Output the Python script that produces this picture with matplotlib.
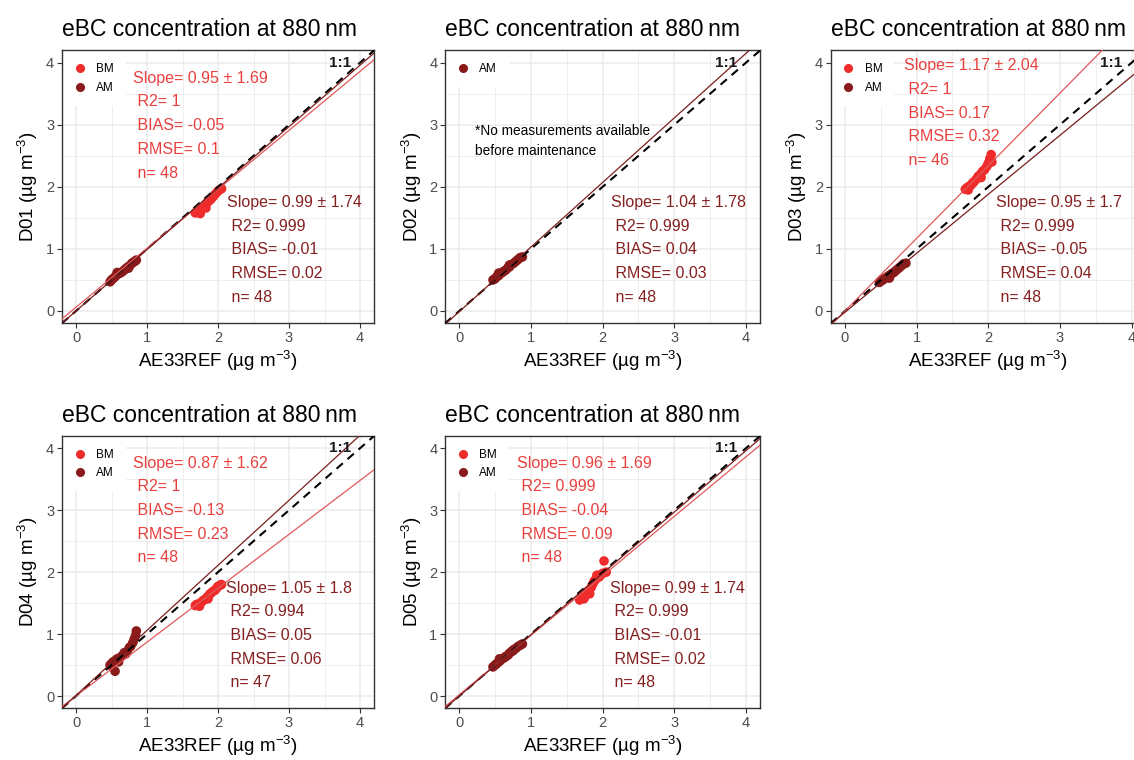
"""eBC concentration at 880 nm: five instruments (D01-D05) against AE33REF."""

import matplotlib

matplotlib.use("Agg")
import matplotlib.pyplot as plt
from matplotlib.lines import Line2D

PANELS = ["D01", "D02", "D03", "D04", "D05"]

# before maintenance (BM) and after maintenance (AM) samples
D01_BM_X = [1.68, 1.70, 1.72, 1.74, 1.76, 1.78, 1.80, 1.82, 1.84, 1.86, 1.88, 1.90, 1.93, 1.96, 1.99, 2.02, 2.05, 1.75, 1.83]
D01_BM_Y = [1.58, 1.60, 1.61, 1.60, 1.63, 1.66, 1.68, 1.71, 1.74, 1.76, 1.78, 1.80, 1.84, 1.88, 1.92, 1.95, 1.97, 1.57, 1.66]
D01_AM_X = [0.48, 0.50, 0.52, 0.55, 0.57, 0.60, 0.62, 0.65, 0.68, 0.70, 0.73, 0.75, 0.78, 0.80, 0.83, 0.85, 0.58, 0.74]
D01_AM_Y = [0.47, 0.50, 0.52, 0.55, 0.58, 0.60, 0.61, 0.63, 0.66, 0.68, 0.71, 0.72, 0.76, 0.78, 0.80, 0.82, 0.62, 0.69]

D02_AM_X = [0.47, 0.50, 0.52, 0.55, 0.57, 0.60, 0.62, 0.65, 0.68, 0.70, 0.73, 0.76, 0.79, 0.82, 0.85, 0.88, 0.55, 0.70]
D02_AM_Y = [0.50, 0.52, 0.55, 0.57, 0.60, 0.62, 0.64, 0.66, 0.70, 0.71, 0.75, 0.77, 0.80, 0.83, 0.86, 0.87, 0.61, 0.74]

D03_BM_X = [1.68, 1.70, 1.72, 1.74, 1.76, 1.78, 1.80, 1.83, 1.86, 1.89, 1.92, 1.95, 1.98, 2.00, 2.02, 2.04, 2.05, 1.72, 1.90]
D03_BM_Y = [1.96, 1.98, 2.00, 2.01, 2.03, 2.06, 2.08, 2.12, 2.17, 2.20, 2.25, 2.28, 2.33, 2.38, 2.45, 2.52, 2.40, 1.95, 2.15]
D03_AM_X = [0.48, 0.50, 0.53, 0.55, 0.58, 0.60, 0.63, 0.65, 0.68, 0.70, 0.73, 0.76, 0.79, 0.82, 0.85, 0.62]
D03_AM_Y = [0.46, 0.48, 0.50, 0.52, 0.54, 0.56, 0.58, 0.60, 0.62, 0.64, 0.67, 0.70, 0.73, 0.76, 0.77, 0.53]

D04_BM_X = [1.68, 1.70, 1.72, 1.75, 1.78, 1.80, 1.83, 1.85, 1.88, 1.90, 1.93, 1.96, 1.98, 2.00, 2.03, 2.05, 1.74, 1.86]
D04_BM_Y = [1.46, 1.48, 1.47, 1.50, 1.53, 1.55, 1.57, 1.60, 1.64, 1.66, 1.69, 1.71, 1.74, 1.77, 1.79, 1.80, 1.45, 1.57]
D04_AM_X = [0.48, 0.50, 0.52, 0.55, 0.56, 0.58, 0.60, 0.62, 0.65, 0.68, 0.70, 0.72, 0.75, 0.77, 0.80, 0.82, 0.84, 0.85]
D04_AM_Y = [0.50, 0.52, 0.55, 0.40, 0.58, 0.60, 0.55, 0.62, 0.65, 0.70, 0.68, 0.72, 0.78, 0.80, 0.86, 0.92, 0.98, 1.05]

D05_BM_X = [1.68, 1.70, 1.72, 1.74, 1.76, 1.78, 1.80, 1.82, 1.84, 1.86, 1.88, 1.90, 1.92, 1.95, 1.98, 2.00, 2.02, 2.05]
D05_BM_Y = [1.55, 1.58, 1.60, 1.57, 1.62, 1.66, 1.70, 1.65, 1.75, 1.80, 1.85, 1.88, 1.95, 1.92, 1.96, 1.98, 2.18, 2.00]
D05_AM_X = [0.47, 0.50, 0.52, 0.55, 0.57, 0.60, 0.63, 0.65, 0.68, 0.70, 0.73, 0.76, 0.79, 0.82, 0.85, 0.88, 0.56, 0.75]
D05_AM_Y = [0.47, 0.50, 0.52, 0.55, 0.57, 0.60, 0.62, 0.64, 0.66, 0.69, 0.72, 0.75, 0.77, 0.80, 0.82, 0.84, 0.60, 0.73]

BM_X = [D01_BM_X, None, D03_BM_X, D04_BM_X, D05_BM_X]
BM_Y = [D01_BM_Y, None, D03_BM_Y, D04_BM_Y, D05_BM_Y]
AM_X = [D01_AM_X, D02_AM_X, D03_AM_X, D04_AM_X, D05_AM_X]
AM_Y = [D01_AM_Y, D02_AM_Y, D03_AM_Y, D04_AM_Y, D05_AM_Y]

# regression lines
BM_SLOPE = [0.95, None, 1.17, 0.87, 0.96]
BM_INTERCEPT = [0.06, None, 0.0, 0.0, 0.02]
AM_SLOPE = [0.99, 1.04, 0.95, 1.05, 0.99]
AM_INTERCEPT = [0.0, -0.01, -0.02, 0.01, 0.0]

# slope, R2, BIAS, RMSE, n
BM_STATS = [
    ["0.95 ± 1.69", "1", "-0.05", "0.1", "48"],
    None,
    ["1.17 ± 2.04", "1", "0.17", "0.32", "46"],
    ["0.87 ± 1.62", "1", "-0.13", "0.23", "48"],
    ["0.96 ± 1.69", "0.999", "-0.04", "0.09", "48"],
]
AM_STATS = [
    ["0.99 ± 1.74", "0.999", "-0.01", "0.02", "48"],
    ["1.04 ± 1.78", "0.999", "0.04", "0.03", "48"],
    ["0.95 ± 1.7", "0.999", "-0.05", "0.04", "48"],
    ["1.05 ± 1.8", "0.994", "0.05", "0.06", "47"],
    ["0.99 ± 1.74", "0.999", "-0.01", "0.02", "48"],
]
BM_TEXT_XY = [(0.80, 3.75), None, (0.82, 3.95), (0.80, 3.76), (0.80, 3.76)]
AM_TEXT_XY = [(2.12, 1.75), (2.12, 1.75), (2.11, 1.75), (2.11, 1.74), (2.11, 1.74)]

BM_COLOR = "#EE2C2C"
AM_COLOR = "#8B1A1A"
BM_TEXT = "#E8403F"
AM_TEXT = "#852020"
BM_LINE = "#E0585A"
AM_LINE = "#7A1E1E"

# axes rectangles in figure fractions (third panel runs off the right edge)
POSITIONS = [
    [0.0545, 0.5745, 0.2755, 0.3593],
    [0.3924, 0.5745, 0.2780, 0.3593],
    [0.7325, 0.5745, 0.2780, 0.3593],
    [0.0545, 0.0679, 0.2755, 0.3586],
    [0.3924, 0.0679, 0.2780, 0.3586],
]


def setup_plt() -> None:
    plt.rcParams["font.family"] = ["Liberation Sans", "DejaVu Sans"]
    plt.rcParams["mathtext.default"] = "regular"


def stat_lines(stats):
    return [
        f"Slope= {stats[0]}",
        f" R2= {stats[1]}",
        f" BIAS= {stats[2]}",
        f" RMSE= {stats[3]}",
        f" n= {stats[4]}",
    ]


def draw_panel(fig, i):
    ax = fig.add_axes(POSITIONS[i])
    ax.set_xlim(-0.2, 4.2)
    ax.set_ylim(-0.2, 4.2)
    ax.set_xticks([0, 1, 2, 3, 4])
    ax.set_yticks([0, 1, 2, 3, 4])
    ax.set_xticks([0.5, 1.5, 2.5, 3.5], minor=True)
    ax.set_yticks([0.5, 1.5, 2.5, 3.5], minor=True)
    ax.grid(which="major", color="#EBEBEB", lw=1.1, zorder=0)
    ax.grid(which="minor", color="#EBEBEB", lw=0.6, zorder=0)
    ax.set_axisbelow(True)
    ax.tick_params(which="major", length=3.5, width=0.8, color="#333333",
                   labelcolor="#4D4D4D", labelsize=10.5, pad=2)
    ax.tick_params(which="minor", length=0)
    for sp in ax.spines.values():
        sp.set_color("#333333")
        sp.set_linewidth(1.0)

    handles = []
    if BM_X[i] is not None:
        ax.scatter(BM_X[i], BM_Y[i], s=48, color=BM_COLOR, edgecolors="none", zorder=3)
        handles.append(Line2D([], [], ls="none", marker="o", ms=5.5, color=BM_COLOR, label="BM"))
    ax.scatter(AM_X[i], AM_Y[i], s=48, color=AM_COLOR, edgecolors="none", zorder=3)
    handles.append(Line2D([], [], ls="none", marker="o", ms=5.5, color=AM_COLOR, label="AM"))

    ax.axline((0, 0), slope=1, color="black", ls=(0, (4, 3)), lw=1.5, zorder=4)
    if BM_SLOPE[i] is not None:
        ax.axline((0, BM_INTERCEPT[i]), slope=BM_SLOPE[i], color=BM_LINE, lw=0.9, zorder=4)
    ax.axline((0, AM_INTERCEPT[i]), slope=AM_SLOPE[i], color=AM_LINE, lw=0.9, zorder=4)

    ax.text(3.72, 4.0, "1:1", fontsize=11, fontweight="bold", ha="center", va="center",
            color="#1A1A1A", zorder=5)

    step = 0.382
    if BM_STATS[i] is not None:
        x0, y0 = BM_TEXT_XY[i]
        for k, line in enumerate(stat_lines(BM_STATS[i])):
            ax.text(x0, y0 - k * step, line, color=BM_TEXT, fontsize=11.5, ha="left", va="center",
                    zorder=5)
    x0, y0 = AM_TEXT_XY[i]
    for k, line in enumerate(stat_lines(AM_STATS[i])):
        ax.text(x0, y0 - k * step, line, color=AM_TEXT, fontsize=11.5, ha="left", va="center",
                zorder=5)

    if i == 1:
        ax.text(0.22, 2.9, "*No measurements available", fontsize=9.8, ha="left", va="center")
        ax.text(0.22, 2.58, "before maintenance", fontsize=9.8, ha="left", va="center")

    leg = ax.legend(handles=handles, loc="upper left", bbox_to_anchor=(0.0, 1.0),
                    borderaxespad=0.1, frameon=True, fontsize=8.5, handlelength=0.8,
                    handletextpad=1.0, labelspacing=0.55, borderpad=1.0)
    leg.get_frame().set_facecolor("white")
    leg.get_frame().set_edgecolor("none")
    leg.get_frame().set_alpha(1.0)
    leg.set_zorder(2)

    ax.set_title("eBC concentration at 880\u2009nm", loc="left", fontsize=16.5, pad=10)
    ax.set_xlabel("AE33REF (µg m$^{-3}$)", fontsize=13.5, labelpad=3)
    ax.set_ylabel(f"{PANELS[i]} (µg m$^{{-3}}$)", fontsize=13.5, labelpad=4)


def main() -> None:
    setup_plt()
    fig = plt.figure(figsize=(11.34, 7.6), dpi=100)
    for i in range(len(PANELS)):
        draw_panel(fig, i)
    fig.savefig("out.png", dpi=100)


if __name__ == "__main__":
    main()
